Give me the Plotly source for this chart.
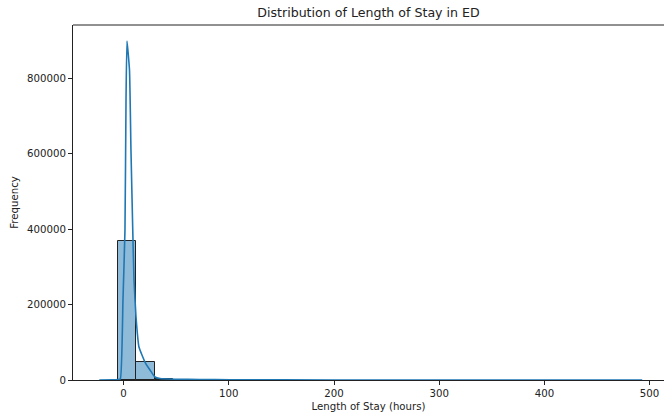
import plotly.graph_objects as go

# Histogram bins (hours) and counts
bin_left = [-5.0, 12.2, 29.4, 46.6, 63.8, 81.0, 98.2]
bin_width = 17.2
counts = [368700, 48500, 3200, 900, 450, 250, 150]

# KDE curve (scaled to counts)
kde_x = [-23.1, -10.0, -5.3, -3.1, -0.6, 1.3, 2.3, 3.2, 5.6, 7.0, 8.7, 9.9, 11.8,
         14.6, 20.3, 25.1, 29.8, 34.6, 48.9, 72.6, 101.0, 150.0, 250.0, 350.0, 450.0, 493.0]
kde_y = [0, 200, 1300, 2600, 212000, 398000, 743000, 899000, 822000, 610000, 398000,
         265000, 167000, 87500, 47700, 26500, 8000, 4000, 2100, 1300, 800, 300, 100, 50, 20, 0]

x_ticks = [0, 100, 200, 300, 400, 500]
y_ticks = [0, 200000, 400000, 600000, 800000]

centers = [b + bin_width / 2 for b in bin_left]

fig = go.Figure()
fig.add_trace(go.Bar(
    x=centers, y=counts, width=[bin_width] * len(counts),
    marker=dict(color="rgba(31,119,180,0.5)", line=dict(color="#222222", width=1)),
    showlegend=False, hoverinfo="skip",
))
fig.add_trace(go.Scatter(
    x=kde_x, y=kde_y, mode="lines", line=dict(color="#1f77b4", width=1.6, shape="spline", smoothing=0.4),
    showlegend=False,
))

axis_common = dict(
    showgrid=False, zeroline=False, showline=True, linecolor="#222222", linewidth=1,
    ticks="outside", ticklen=4, tickcolor="#222222", tickwidth=1,
    tickfont=dict(family="DejaVu Sans", size=10.2, color="#222222"),
)

fig.update_layout(
    width=664, height=417,
    margin=dict(l=73, r=0, t=25, b=37),
    paper_bgcolor="white", plot_bgcolor="white",
    bargap=0,
    title=dict(text="Distribution of Length of Stay in ED", x=0.5, xref="paper", xanchor="center",
               y=1 - 13 / 417, yanchor="middle",
               font=dict(family="DejaVu Sans", size=12.6, color="#222222")),
    xaxis=dict(range=[-48.1, 513.7], tickvals=x_ticks, ticktext=[str(v) for v in x_ticks],
               mirror=False,
               title=dict(text="Length of Stay (hours)", standoff=4,
                          font=dict(family="DejaVu Sans", size=10.2, color="#222222")),
               **axis_common),
    yaxis=dict(range=[0, 941600], tickvals=y_ticks, ticktext=[str(v) for v in y_ticks],
               mirror=False,
               title=dict(text="Frequency", standoff=6,
                          font=dict(family="DejaVu Sans", size=10.2, color="#222222")),
               **axis_common),
)
# top spine
fig.add_shape(type="line", xref="paper", yref="paper", x0=0, x1=1, y0=1, y1=1,
              line=dict(color="#222222", width=1))

fig.write_html("out.html",
               config={"displayModeBar": False},
               post_script="document.body.style.margin='0';document.body.style.overflow='hidden';")
